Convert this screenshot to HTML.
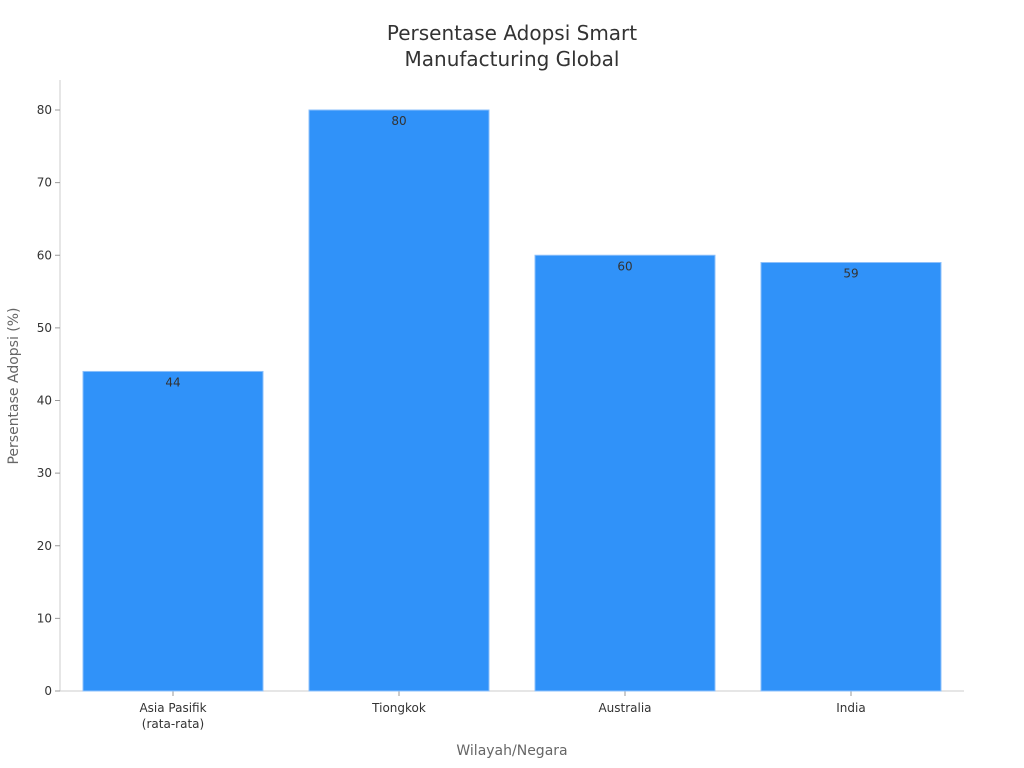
<!DOCTYPE html>
<html><head><meta charset="utf-8"><style>
body{margin:0;background:#fff;}
svg{display:block;font-family:"DejaVu Sans","Liberation Sans",sans-serif;}
</style></head><body>
<svg id="chart" width="1024" height="768">
<text x="512" y="40" text-anchor="middle" font-size="20" fill="#333"><tspan x="512">Persentase Adopsi Smart</tspan><tspan x="512" dy="26">Manufacturing Global</tspan></text>
<g id="axes"></g><g id="bars"></g>
<text x="512" y="755" text-anchor="middle" font-size="14" fill="#666">Wilayah/Negara</text>
<text transform="translate(18,386) rotate(-90)" text-anchor="middle" font-size="14" fill="#666">Persentase Adopsi (%)</text>
</svg>
<script>
const categories=[["Asia Pasifik","(rata-rata)"],["Tiongkok"],["Australia"],["India"]];
const values=[44,80,60,59];
const yTicks=[0,10,20,30,40,50,60,70,80];
const NS="http://www.w3.org/2000/svg";
const x0=60,x1=964,y0=691,yTop=110,yMaxV=80;
const band=(x1-x0)/categories.length,bw=180;
function yS(v){return y0-(v/yMaxV)*(y0-yTop);}
function xC(i){return x0+band*(i+0.5);}
function mk(t,a,p){const e=document.createElementNS(NS,t);for(const k in a)e.setAttribute(k,a[k]);p.appendChild(e);return e;}
const axes=document.getElementById('axes'),bars=document.getElementById('bars');
const ya=mk('line',{x1:x0,x2:x0,y1:80,y2:y0,stroke:'#ccc'},axes);


const xa=mk('line',{x1:x0,x2:x1,y1:y0,y2:y0,stroke:'#ccc'},axes);


yTicks.forEach(v=>{
 const tk=mk('line',{x1:x0-5,x2:x0,y1:yS(v),y2:yS(v),stroke:'#999'},axes);
 
 
 const t=mk('text',{x:x0-8,y:yS(v)+4,'text-anchor':'end','font-size':12,fill:'#333'},axes);
 t.textContent=v;
 
 
});
values.forEach((v,i)=>{
 const r=mk('rect',{x:xC(i)-bw/2,y:yS(v),width:bw,height:y0-yS(v),fill:'#3092f9',stroke:'#8cc0fb','stroke-width':1},bars);
 
 
 const l=mk('text',{x:xC(i),y:yS(v)+15,'text-anchor':'middle','font-size':12,fill:'#333'},bars);
 l.textContent=v;
 
 
 const tk=mk('line',{x1:xC(i),x2:xC(i),y1:y0,y2:y0+5,stroke:'#999'},axes);
 
 
 categories[i].forEach((s,j)=>{
  const c=mk('text',{x:xC(i),y:712+j*16,'text-anchor':'middle','font-size':12,fill:'#333'},axes);
  c.textContent=s;
  
  
 });
});
</script>
</body></html>
